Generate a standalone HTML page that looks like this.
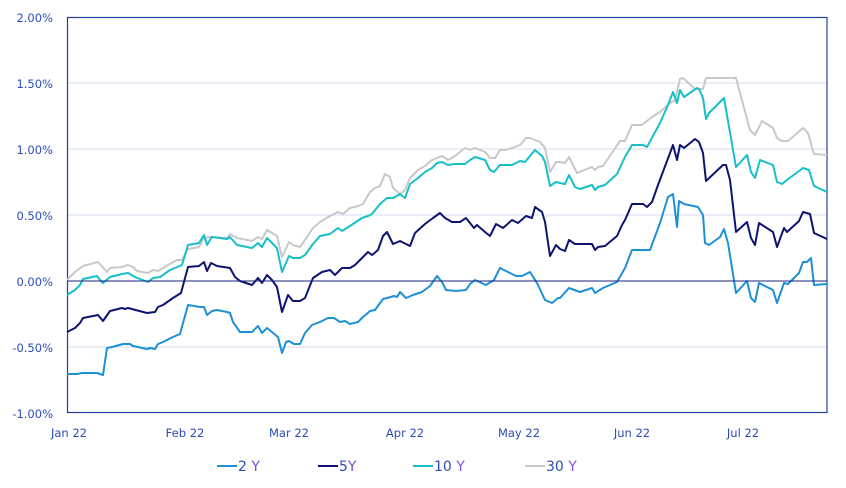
<!DOCTYPE html>
<html><head><meta charset="utf-8"><style>
body{margin:0;background:#fff;}
svg text{font-family:"DejaVu Sans","Liberation Sans",sans-serif;font-size:11.5px;fill:#2a4cb8;}
</style></head><body>
<svg width="846" height="483" viewBox="0 0 846 483" xmlns="http://www.w3.org/2000/svg">
<g stroke="#d3def2" stroke-width="1">
<line x1="67" y1="83" x2="827" y2="83"/><line x1="67" y1="149" x2="827" y2="149"/>
<line x1="67" y1="215" x2="827" y2="215"/><line x1="67" y1="347" x2="827" y2="347"/>
</g>
<rect x="67.5" y="17.5" width="759.5" height="395" fill="none" stroke="#2342a0" stroke-width="1.2"/>
<g text-anchor="end">
<text x="53" y="22">2.00%</text><text x="53" y="88">1.50%</text><text x="53" y="154">1.00%</text>
<text x="53" y="220">0.50%</text><text x="53" y="286">0.00%</text><text x="53" y="352">-0.50%</text><text x="53" y="418">-1.00%</text>
</g>
<g text-anchor="middle">
<text x="69" y="437">Jan 22</text><text x="185" y="437">Feb 22</text><text x="289" y="437">Mar 22</text>
<text x="405" y="437">Apr 22</text><text x="519" y="437">May 22</text><text x="632" y="437">Jun 22</text><text x="743" y="437">Jul 22</text>
</g>
<g fill="none" stroke-width="2" stroke-linejoin="round">
<polyline stroke="#c8c8c8" points="67,280 75,272 83,266 98,262 107,272 110,268 122,267 128,265 133,267 137,271 148,273 153,270 158,271 168,265 177,260 182,260 188,249 199,247 204,238 210,237 227,238 230,234 237,238 252,241 258,237 262,239 267,230 277,236 282,257 289,242 293,245 300,247 305,240 313,228 320,222 330,216 338,212 343,214 350,208 358,206 363,204 370,192 375,188 380,186 385,174 390,177 393,188 400,194 405,190 410,178 418,170 425,166 432,160 437,158 442,156 448,160 455,156 465,148 470,150 475,148 485,152 490,158 495,158 500,150 505,150 512,148 520,145 526,138 530,138 540,142 545,148 550,172 556,162 560,162 565,163 569,157 577,173 592,167 595,170 598,167 603,166 620,141 625,141 632,125 642,125 652,117 660,112 670,103 675,100 680,79 683,78 695,89 703,89 706,78 736,78 750,130 755,135 762,121 773,128 777,138 782,141 788,141 803,128 808,133 814,154 827,155"/>
<polyline stroke="#17bfc9" points="67,295 75,290 80,285 83,279 97,276 100,280 103,283 110,277 122,274 128,273 135,277 140,279 148,282 153,278 160,277 170,270 182,265 188,245 199,243 204,235 207,245 212,237 227,239 230,237 237,245 252,248 258,243 262,247 267,238 277,248 282,272 289,256 293,258 300,258 305,255 313,244 320,236 330,234 338,228 342,231 350,226 356,222 362,218 368,216 372,214 380,204 387,198 393,198 400,194 405,198 410,184 418,178 425,172 432,168 437,163 442,162 448,165 455,164 465,164 470,160 475,157 485,160 490,170 494,172 500,165 512,165 520,161 525,162 535,150 542,156 545,162 550,186 556,182 560,183 565,184 569,175 575,187 580,189 592,185 595,190 598,187 605,185 617,174 625,157 632,145 643,145 647,147 660,123 668,105 673,92 677,103 680,90 684,97 697,88 699,89 703,98 706,119 709,113 724,98 736,167 747,155 751,172 755,178 760,160 773,165 777,182 782,184 787,180 803,168 809,170 814,186 827,192"/>
<polyline stroke="#0d1470" points="67,332 75,328 80,323 83,318 98,315 103,321 110,311 122,308 125,309 128,308 147,313 155,312 158,307 163,305 173,298 181,293 188,267 199,266 204,262 207,271 211,263 217,266 230,268 235,277 240,281 252,285 258,278 262,283 267,275 272,280 277,287 282,312 288,295 293,301 300,301 305,298 313,278 322,272 330,270 335,275 342,268 350,268 355,265 362,258 368,252 372,255 378,250 383,236 387,232 393,244 400,241 410,246 415,233 425,224 433,218 440,213 445,218 452,222 460,222 466,218 474,228 477,225 485,232 490,236 496,224 503,228 512,220 518,223 526,216 532,218 535,207 542,212 545,222 550,256 556,245 560,249 565,251 569,240 575,244 592,244 595,250 598,247 605,246 617,236 622,225 625,220 632,204 643,204 647,207 652,202 658,185 673,145 677,160 680,145 684,148 695,139 699,142 703,153 706,181 723,165 726,165 730,180 736,232 747,222 751,238 755,245 759,223 773,232 777,247 784,228 787,232 799,221 803,212 810,214 814,233 827,239"/>
<polyline stroke="#1e90d6" points="67,374 77,374 82,373 97,373 103,375 107,348 112,347 123,344 130,344 133,346 147,349 150,348 155,349 158,344 163,342 173,337 180,334 188,305 200,307 204,307 207,315 212,311 217,310 227,312 230,313 233,322 240,332 252,332 258,326 262,333 267,328 278,337 282,353 286,342 289,341 294,344 300,344 305,333 312,325 320,322 328,318 334,318 340,322 345,321 350,324 358,322 363,317 370,311 375,310 383,299 387,298 394,296 397,297 400,292 406,298 413,295 422,292 430,286 437,276 442,282 446,290 456,291 466,290 470,284 475,280 486,285 494,280 500,268 508,272 516,276 522,276 530,272 537,283 545,300 552,303 558,298 560,298 569,288 580,292 592,288 595,293 603,288 617,282 625,268 632,250 650,250 660,223 668,197 673,194 677,227 679,201 684,204 698,207 703,215 705,243 709,245 720,237 724,229 728,243 736,293 747,281 751,298 755,302 759,283 773,290 777,303 784,283 788,284 799,273 803,262 807,262 811,258 814,285 827,284"/>
</g>
<line x1="67" y1="281" x2="827" y2="281" stroke="#1a237e" stroke-width="1"/>
<g stroke-width="2">
<line x1="217" y1="466" x2="237" y2="466" stroke="#1e90d6"/>
<line x1="318" y1="466" x2="338" y2="466" stroke="#0d1470"/>
<line x1="413" y1="466" x2="433" y2="466" stroke="#17bfc9"/>
<line x1="525" y1="466" x2="545" y2="466" stroke="#c8c8c8"/>
</g>
<text x="238" y="471" style="font-size:14px">2 <tspan fill="#7a4fd0">Y</tspan></text>
<text x="339" y="471" style="font-size:14px">5<tspan fill="#7a4fd0">Y</tspan></text>
<text x="434" y="471" style="font-size:14px">10 <tspan fill="#7a4fd0">Y</tspan></text>
<text x="546" y="471" style="font-size:14px">30 <tspan fill="#7a4fd0">Y</tspan></text>
</svg>
</body></html>
